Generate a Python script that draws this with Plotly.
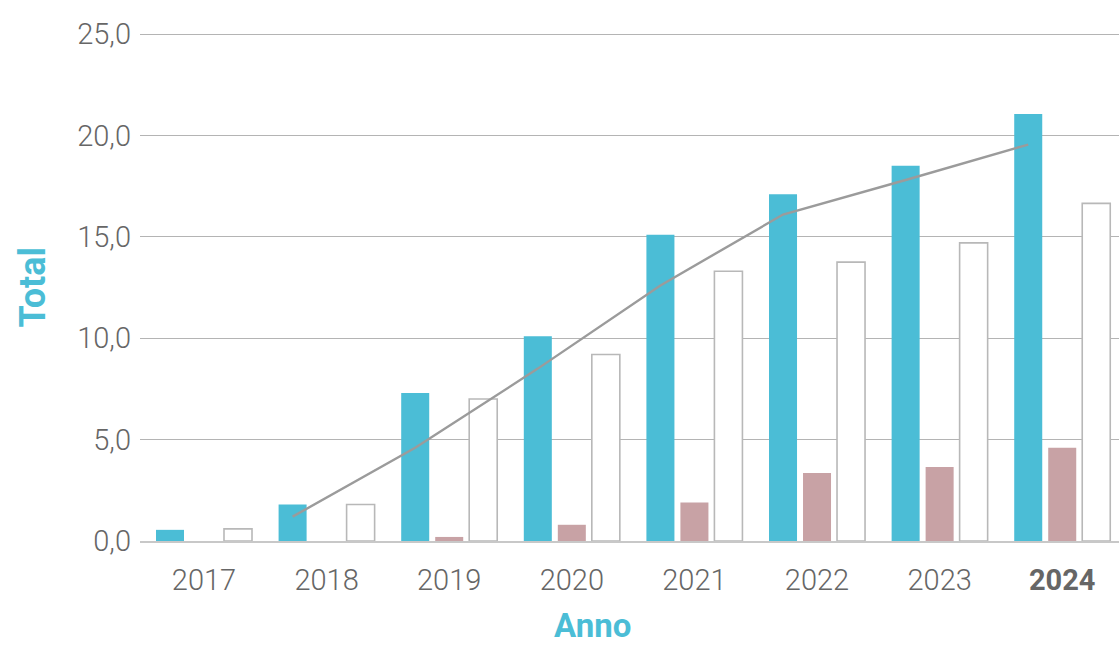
import plotly.graph_objects as go

# Yearly values
years = [2017, 2018, 2019, 2020, 2021, 2022, 2023, 2024]
year_labels = ["2017", "2018", "2019", "2020", "2021", "2022", "2023", "<b>2024</b>"]
blue_values = [0.55, 1.8, 7.3, 10.1, 15.1, 17.1, 18.5, 21.05]
pink_values = [0.0, 0.0, 0.2, 0.8, 1.9, 3.35, 3.65, 4.6]
white_values = [0.6, 1.8, 7.0, 9.2, 13.3, 13.75, 14.7, 16.65]
trend_years = [2018, 2019, 2020, 2021, 2022, 2023, 2024]
trend_values = [1.2, 4.6, 8.5, 12.6, 16.1, 17.8, 19.55]
y_ticks = [0, 5, 10, 15, 20, 25]

BLUE = "#4BBDD6"
PINK = "#C8A2A5"
GREY_LINE = "#9B9B9B"
TICK_GREY = "#666666"
TICK_FONT = dict(family="Roboto", size=29, color=TICK_GREY, weight=300)

BARGAP = 0.168
N_SERIES = 3
slot = (1 - BARGAP) / N_SERIES  # width of one bar slot inside a group

fig = go.Figure()
fig.add_bar(x=years, y=blue_values, marker=dict(color=BLUE, line=dict(width=0)), name="a")
fig.add_bar(x=years, y=pink_values, marker=dict(color=PINK, line=dict(width=0)), name="b")
fig.add_bar(x=years, y=white_values,
            marker=dict(color="white", line=dict(color="#B8B8B8", width=1.6)), name="c")
# trend line anchored on the first bar of each group
fig.add_scatter(x=[y - slot for y in trend_years], y=trend_values, mode="lines",
                line=dict(color=GREY_LINE, width=2.4), name="d")

fig.update_layout(
    width=1119, height=646,
    margin=dict(l=140, r=0, t=33, b=105),
    paper_bgcolor="white", plot_bgcolor="white",
    barmode="group", bargap=BARGAP, bargroupgap=0.176,
    showlegend=False,
    separators=",.",
    xaxis=dict(
        tickmode="array", tickvals=years, ticktext=year_labels,
        range=[years[0] - 0.522, years[0] + 7.463],
        showgrid=False, zeroline=False,
        showline=True, linecolor="#C8C8C8", linewidth=1.5,
        ticks="", ticklabelstandoff=12,
        tickfont=TICK_FONT,
    ),
    yaxis=dict(
        range=[0, 25.05], tickvals=y_ticks, tickformat=".1f",
        showgrid=True, gridcolor="#B4B4B4", gridwidth=1,
        zeroline=False, showline=False, ticks="",
        ticklabelstandoff=8,
        tickfont=TICK_FONT,
    ),
    annotations=[
        dict(text="<b>Total</b>", textangle=-90, xref="paper", yref="paper",
             x=(33 - 140) / 979, y=(541 - 288) / 507, xanchor="center", yanchor="middle",
             showarrow=False, font=dict(family="Roboto", size=36, color=BLUE)),
        dict(text="<b>Anno</b>", xref="paper", yref="paper",
             x=(592 - 140) / 979, y=(541 - 625) / 507, xanchor="center", yanchor="middle",
             showarrow=False, font=dict(family="Roboto", size=33, color=BLUE)),
    ],
)

fig.write_html("out.html")
